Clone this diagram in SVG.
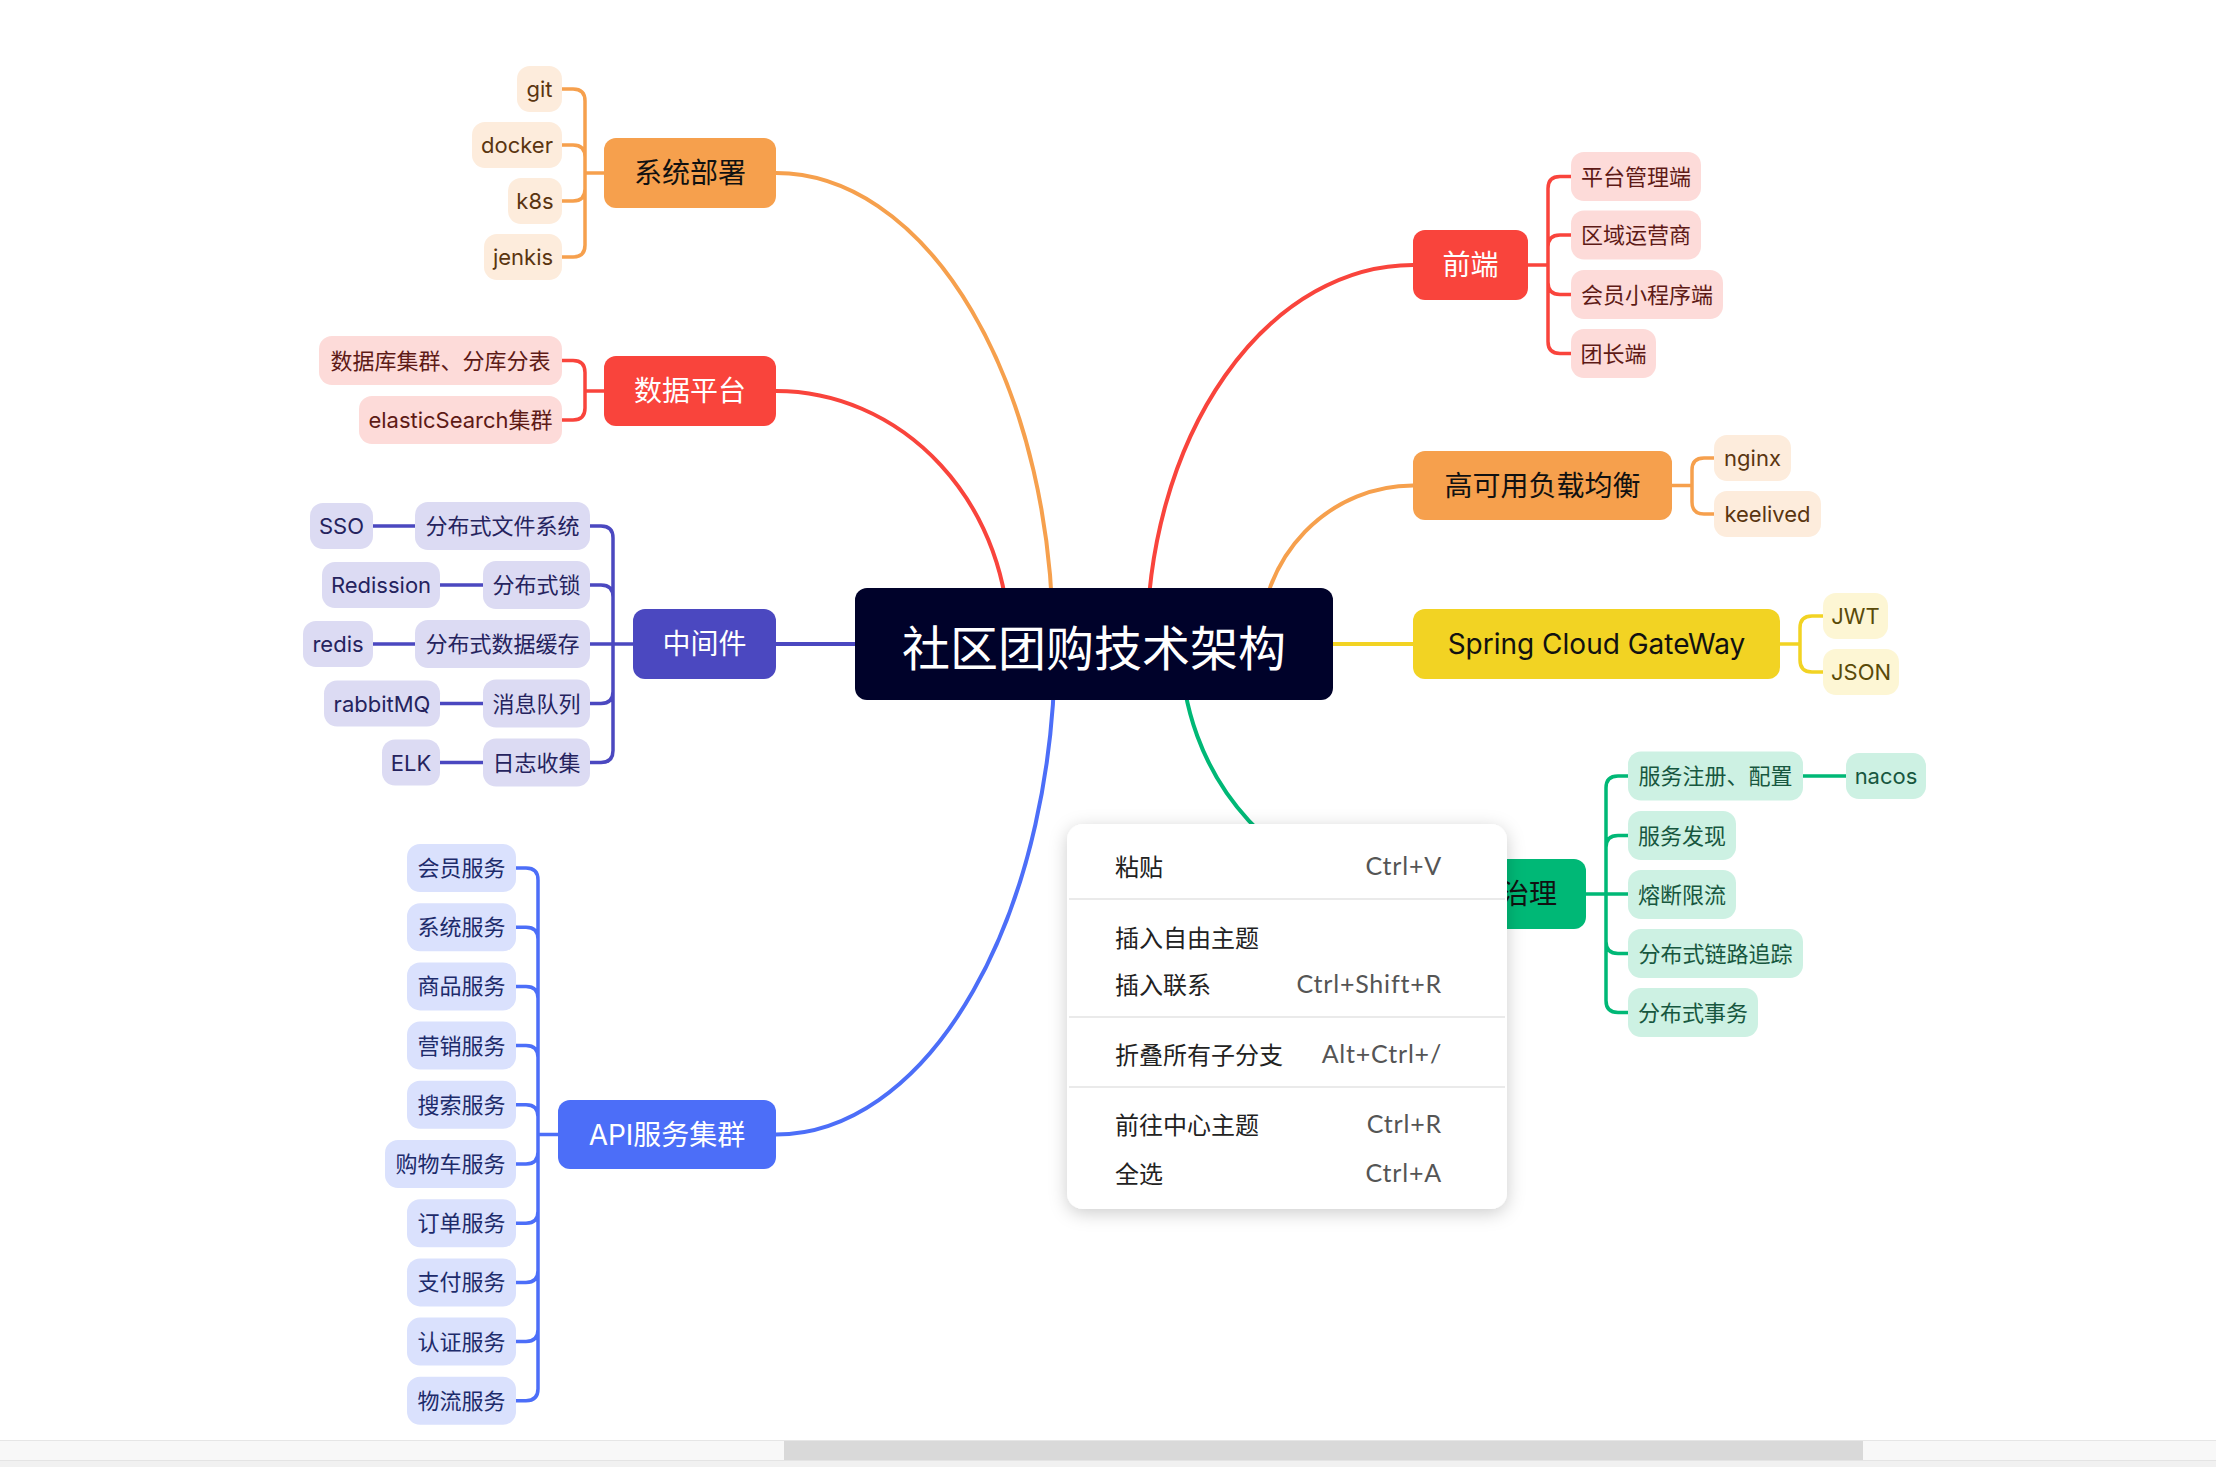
<svg xmlns="http://www.w3.org/2000/svg" width="2216" height="1467" viewBox="0 0 2216 1467">
<defs>
<style>
text{font-family:Inter,"Noto Sans CJK SC",sans-serif;dominant-baseline:central;text-anchor:middle}
.root text{font-size:48px;fill:#fff;font-family:"Noto Sans CJK SC",sans-serif}
.l1 rect{rx:12px}
.l1 text{font-size:28px}
.c rect{rx:13px}
.c text{font-size:22px}
.wt{fill:#fff}
.bk{fill:#111}
.ln{fill:none;stroke-width:3.5;stroke-linecap:round}
.mb{fill:none;stroke-width:4}
.o{stroke:#f6a04d}.r{stroke:#f9443c}.p{stroke:#4b48c0}.b{stroke:#4c6ef8}.y{stroke:#f2d323}.g{stroke:#00b876}
.co rect{fill:#fdecdc}.co text{fill:#5a3510}
.cr rect{fill:#fddbd9}.cr text{fill:#5e1a16}
.cp rect{fill:#dcdbf3}.cp text{fill:#25235e}
.cb rect{fill:#dae1fd}.cb text{fill:#1d2b6b}
.cy rect{fill:#fdf6d4}.cy text{fill:#5a4a08}
.cg rect{fill:#cdf1e3}.cg text{fill:#17573f}
.menu text{font-size:24px;text-anchor:start;fill:#222;font-family:"Noto Sans CJK SC",sans-serif}
.menu text.k{text-anchor:end;fill:#555;font-family:Lato,"Noto Sans",sans-serif;font-size:25px;letter-spacing:0.8px}
.sep{stroke:#e3e3e3;stroke-width:1.5}
</style>
<filter id="sh" x="-15%" y="-15%" width="130%" height="135%">
<feDropShadow dx="0" dy="4" stdDeviation="9" flood-color="#000" flood-opacity="0.2"/>
</filter>
</defs>
<rect width="2216" height="1467" fill="#fff"/>

<g id="connectors">
<path class="mb o" d="M1053 644A277 471 0 0 0 776 173"/>
<path class="mb r" d="M1009 644A233 253 0 0 0 776 391"/>
<path class="mb p" d="M1094 644H776"/>
<path class="mb b" d="M1055 644A279 490.5 0 0 1 776 1134.5"/>
<path class="mb r" d="M1147 644A266 379 0 0 1 1413 265"/>
<path class="mb o" d="M1260 644A153 158.5 0 0 1 1413 485.5"/>
<path class="mb y" d="M1094 644H1413"/>
<path class="mb g" d="M1181 644A232 250 0 0 0 1413 894"/>

<path class="ln o" d="M604 173H585V101Q585 89 573 89H562M604 173H585V157Q585 145 573 145H562M604 173H585V189Q585 201 573 201H562M604 173H585V245Q585 257 573 257H562"/>
<path class="ln r" d="M604 391H585V372.5Q585 360.5 573 360.5H562M604 391H585V408Q585 420 573 420H562"/>
<path class="ln p" d="M633 644H613V538Q613 526 601 526H590M633 644H613V597Q613 585 601 585H590M633 644H590M633 644H613V691.5Q613 703.5 601 703.5H590M633 644H613V750.5Q613 762.5 601 762.5H590"/>
<path class="ln p" d="M373 526H415M440 585H483M373 644H415M440 703.5H483M440 762.5H483"/>
<path class="ln b" d="M558 1134.5H538V880Q538 868 526 868H516M538 1134.5V939.2Q538 927.2 526 927.2H516M538 1134.5V998.4Q538 986.4 526 986.4H516M538 1134.5V1057.6Q538 1045.6 526 1045.6H516M538 1134.5V1116.8Q538 1104.8 526 1104.8H516M538 1134.5V1152Q538 1164 526 1164H516M538 1134.5V1211.2Q538 1223.2 526 1223.2H516M538 1134.5V1270.4Q538 1282.4 526 1282.4H516M538 1134.5V1329.6Q538 1341.6 526 1341.6H516M538 1134.5V1388.8Q538 1400.8 526 1400.8H516"/>
<path class="ln r" d="M1528 265H1548V188.5Q1548 176.5 1560 176.5H1571M1548 265V247Q1548 235 1560 235H1571M1548 265V282.5Q1548 294.5 1560 294.5H1571M1548 265V341.5Q1548 353.5 1560 353.5H1571"/>
<path class="ln o" d="M1672 485.5H1692V470Q1692 458 1704 458H1714M1692 485.5V502Q1692 514 1704 514H1714"/>
<path class="ln y" d="M1780 644H1800V628Q1800 616 1812 616H1823M1800 644V660Q1800 672 1812 672H1823"/>
<path class="ln g" d="M1586 894H1606V788Q1606 776 1618 776H1628M1606 894V847.5Q1606 835.5 1618 835.5H1628M1586 894H1628M1606 894V941.5Q1606 953.5 1618 953.5H1628M1606 894V1000.5Q1606 1012.5 1618 1012.5H1628"/>
<path class="ln g" d="M1803 776H1846"/>
</g>

<g id="root" class="root"><rect x="855" y="588" width="478" height="112" rx="12" fill="#00022a"/><text x="1094" y="645">社区团购技术架构</text></g>

<g id="n-deploy" class="l1"><rect x="604" y="138" width="172" height="70" fill="#f6a04d"/><text class="bk" x="690" y="173">系统部署</text></g>
<g id="n-data" class="l1"><rect x="604" y="356" width="172" height="70" fill="#f9443c"/><text class="wt" x="690" y="391">数据平台</text></g>
<g id="n-mid" class="l1"><rect x="633" y="609" width="143" height="70" fill="#4b48c0"/><text class="wt" x="704.5" y="644">中间件</text></g>
<g id="n-api" class="l1"><rect x="558" y="1100" width="218" height="69" fill="#4c6ef8"/><text class="wt" x="667" y="1134.5">API服务集群</text></g>
<g id="n-front" class="l1"><rect x="1413" y="230" width="115" height="70" fill="#f9443c"/><text class="wt" x="1470.5" y="265">前端</text></g>
<g id="n-ha" class="l1"><rect x="1413" y="451" width="259" height="69" fill="#f6a04d"/><text class="bk" x="1542.5" y="485.5">高可用负载均衡</text></g>
<g id="n-gw" class="l1"><rect x="1413" y="609" width="367" height="70" fill="#f2d323"/><text class="bk" x="1596.5" y="644">Spring Cloud GateWay</text></g>
<g id="n-gov" class="l1"><rect x="1413" y="859" width="173" height="70" fill="#00b876"/><text class="bk" x="1501" y="894">服务治理</text></g>

<g id="n-git" class="c co"><rect x="517" y="66" width="45" height="46"/><text x="539.5" y="89">git</text></g>
<g id="n-docker" class="c co"><rect x="472" y="122" width="90" height="46"/><text x="517" y="145">docker</text></g>
<g id="n-k8s" class="c co"><rect x="508" y="178" width="54" height="46"/><text x="535" y="201">k8s</text></g>
<g id="n-jenkis" class="c co"><rect x="484" y="234" width="78" height="46"/><text x="523" y="257">jenkis</text></g>

<g id="n-db" class="c cr"><rect x="319" y="336" width="243" height="49"/><text x="440.5" y="360.5">数据库集群、分库分表</text></g>
<g id="n-es" class="c cr"><rect x="359" y="396" width="203" height="48"/><text x="460.5" y="420">elasticSearch集群</text></g>

<g id="n-dfs" class="c cp"><rect x="415" y="502" width="175" height="48"/><text x="502.5" y="526">分布式文件系统</text></g>
<g id="n-lock" class="c cp"><rect x="483" y="561" width="107" height="48"/><text x="536.5" y="585">分布式锁</text></g>
<g id="n-cache" class="c cp"><rect x="415" y="620" width="175" height="48"/><text x="502.5" y="644">分布式数据缓存</text></g>
<g id="n-mq" class="c cp"><rect x="483" y="679.5" width="107" height="48"/><text x="536.5" y="703.5">消息队列</text></g>
<g id="n-log" class="c cp"><rect x="483" y="738.5" width="107" height="48"/><text x="536.5" y="762.5">日志收集</text></g>
<g id="n-sso" class="c cp"><rect x="310" y="503" width="63" height="46"/><text x="341.5" y="526">SSO</text></g>
<g id="n-redission" class="c cp"><rect x="322" y="562" width="118" height="46"/><text x="381" y="585">Redission</text></g>
<g id="n-redis" class="c cp"><rect x="303" y="621" width="70" height="46"/><text x="338" y="644">redis</text></g>
<g id="n-rabbit" class="c cp"><rect x="324" y="680.5" width="116" height="46"/><text x="382" y="703.5">rabbitMQ</text></g>
<g id="n-elk" class="c cp"><rect x="382" y="739.5" width="58" height="46"/><text x="411" y="762.5">ELK</text></g>

<g id="n-s1" class="c cb"><rect x="407" y="844" width="109" height="48"/><text x="461.5" y="868">会员服务</text></g>
<g id="n-s2" class="c cb"><rect x="407" y="903.2" width="109" height="48"/><text x="461.5" y="927.2">系统服务</text></g>
<g id="n-s3" class="c cb"><rect x="407" y="962.4" width="109" height="48"/><text x="461.5" y="986.4">商品服务</text></g>
<g id="n-s4" class="c cb"><rect x="407" y="1021.6" width="109" height="48"/><text x="461.5" y="1045.6">营销服务</text></g>
<g id="n-s5" class="c cb"><rect x="407" y="1080.8" width="109" height="48"/><text x="461.5" y="1104.8">搜索服务</text></g>
<g id="n-s6" class="c cb"><rect x="385" y="1140" width="131" height="48"/><text x="450.5" y="1164">购物车服务</text></g>
<g id="n-s7" class="c cb"><rect x="407" y="1199.2" width="109" height="48"/><text x="461.5" y="1223.2">订单服务</text></g>
<g id="n-s8" class="c cb"><rect x="407" y="1258.4" width="109" height="48"/><text x="461.5" y="1282.4">支付服务</text></g>
<g id="n-s9" class="c cb"><rect x="407" y="1317.6" width="109" height="48"/><text x="461.5" y="1341.6">认证服务</text></g>
<g id="n-s10" class="c cb"><rect x="407" y="1376.8" width="109" height="48"/><text x="461.5" y="1400.8">物流服务</text></g>

<g id="n-f1" class="c cr"><rect x="1571" y="152" width="130" height="49"/><text x="1636" y="176.5">平台管理端</text></g>
<g id="n-f2" class="c cr"><rect x="1571" y="210.5" width="130" height="49"/><text x="1636" y="235">区域运营商</text></g>
<g id="n-f3" class="c cr"><rect x="1571" y="270" width="152" height="49"/><text x="1647" y="294.5">会员小程序端</text></g>
<g id="n-f4" class="c cr"><rect x="1571" y="329" width="85" height="49"/><text x="1613.5" y="353.5">团长端</text></g>

<g id="n-nginx" class="c co"><rect x="1714" y="435" width="77" height="46"/><text x="1752.5" y="458">nginx</text></g>
<g id="n-keelived" class="c co"><rect x="1714" y="491" width="107" height="46"/><text x="1767.5" y="514">keelived</text></g>

<g id="n-jwt" class="c cy"><rect x="1823" y="593" width="65" height="46"/><text x="1855.5" y="616">JWT</text></g>
<g id="n-json" class="c cy"><rect x="1823" y="649" width="76" height="46"/><text x="1861" y="672">JSON</text></g>

<g id="n-g1" class="c cg"><rect x="1628" y="751.5" width="175" height="49"/><text x="1715.5" y="776">服务注册、配置</text></g>
<g id="n-g2" class="c cg"><rect x="1628" y="811" width="108" height="49"/><text x="1682" y="835.5">服务发现</text></g>
<g id="n-g3" class="c cg"><rect x="1628" y="870" width="108" height="49"/><text x="1682" y="894.5">熔断限流</text></g>
<g id="n-g4" class="c cg"><rect x="1628" y="929" width="175" height="49"/><text x="1715.5" y="953.5">分布式链路追踪</text></g>
<g id="n-g5" class="c cg"><rect x="1628" y="988" width="130" height="49"/><text x="1693" y="1012.5">分布式事务</text></g>
<g id="n-nacos" class="c cg"><rect x="1846" y="753" width="80" height="46"/><text x="1886" y="776">nacos</text></g>

<g id="context-menu" class="menu">
<rect x="1067" y="824" width="440" height="385" rx="16" fill="#fff" filter="url(#sh)"/>
<line class="sep" x1="1069" y1="899" x2="1505" y2="899"/>
<line class="sep" x1="1069" y1="1017" x2="1505" y2="1017"/>
<line class="sep" x1="1069" y1="1087" x2="1505" y2="1087"/>
<text x="1115" y="865">粘贴</text><text class="k" x="1442" y="865">Ctrl+V</text>
<text x="1115" y="936">插入自由主题</text>
<text x="1115" y="983">插入联系</text><text class="k" x="1442" y="983">Ctrl+Shift+R</text>
<text x="1115" y="1053">折叠所有子分支</text><text class="k" x="1442" y="1053">Alt+Ctrl+/</text>
<text x="1115" y="1123">前往中心主题</text><text class="k" x="1442" y="1123">Ctrl+R</text>
<text x="1115" y="1172">全选</text><text class="k" x="1442" y="1172">Ctrl+A</text>
</g>

<g id="scrollbar">
<rect x="0" y="1440" width="2216" height="20" fill="#f8f8f8"/>
<line x1="0" y1="1440.5" x2="2216" y2="1440.5" stroke="#e6e6e6"/>
<rect x="784" y="1441" width="1079" height="19" fill="#d9d9d9"/>
<rect x="0" y="1460" width="2216" height="7" fill="#f1f1f1"/>
<line x1="0" y1="1460.5" x2="2216" y2="1460.5" stroke="#e4e4e4"/>
</g>
</svg>
